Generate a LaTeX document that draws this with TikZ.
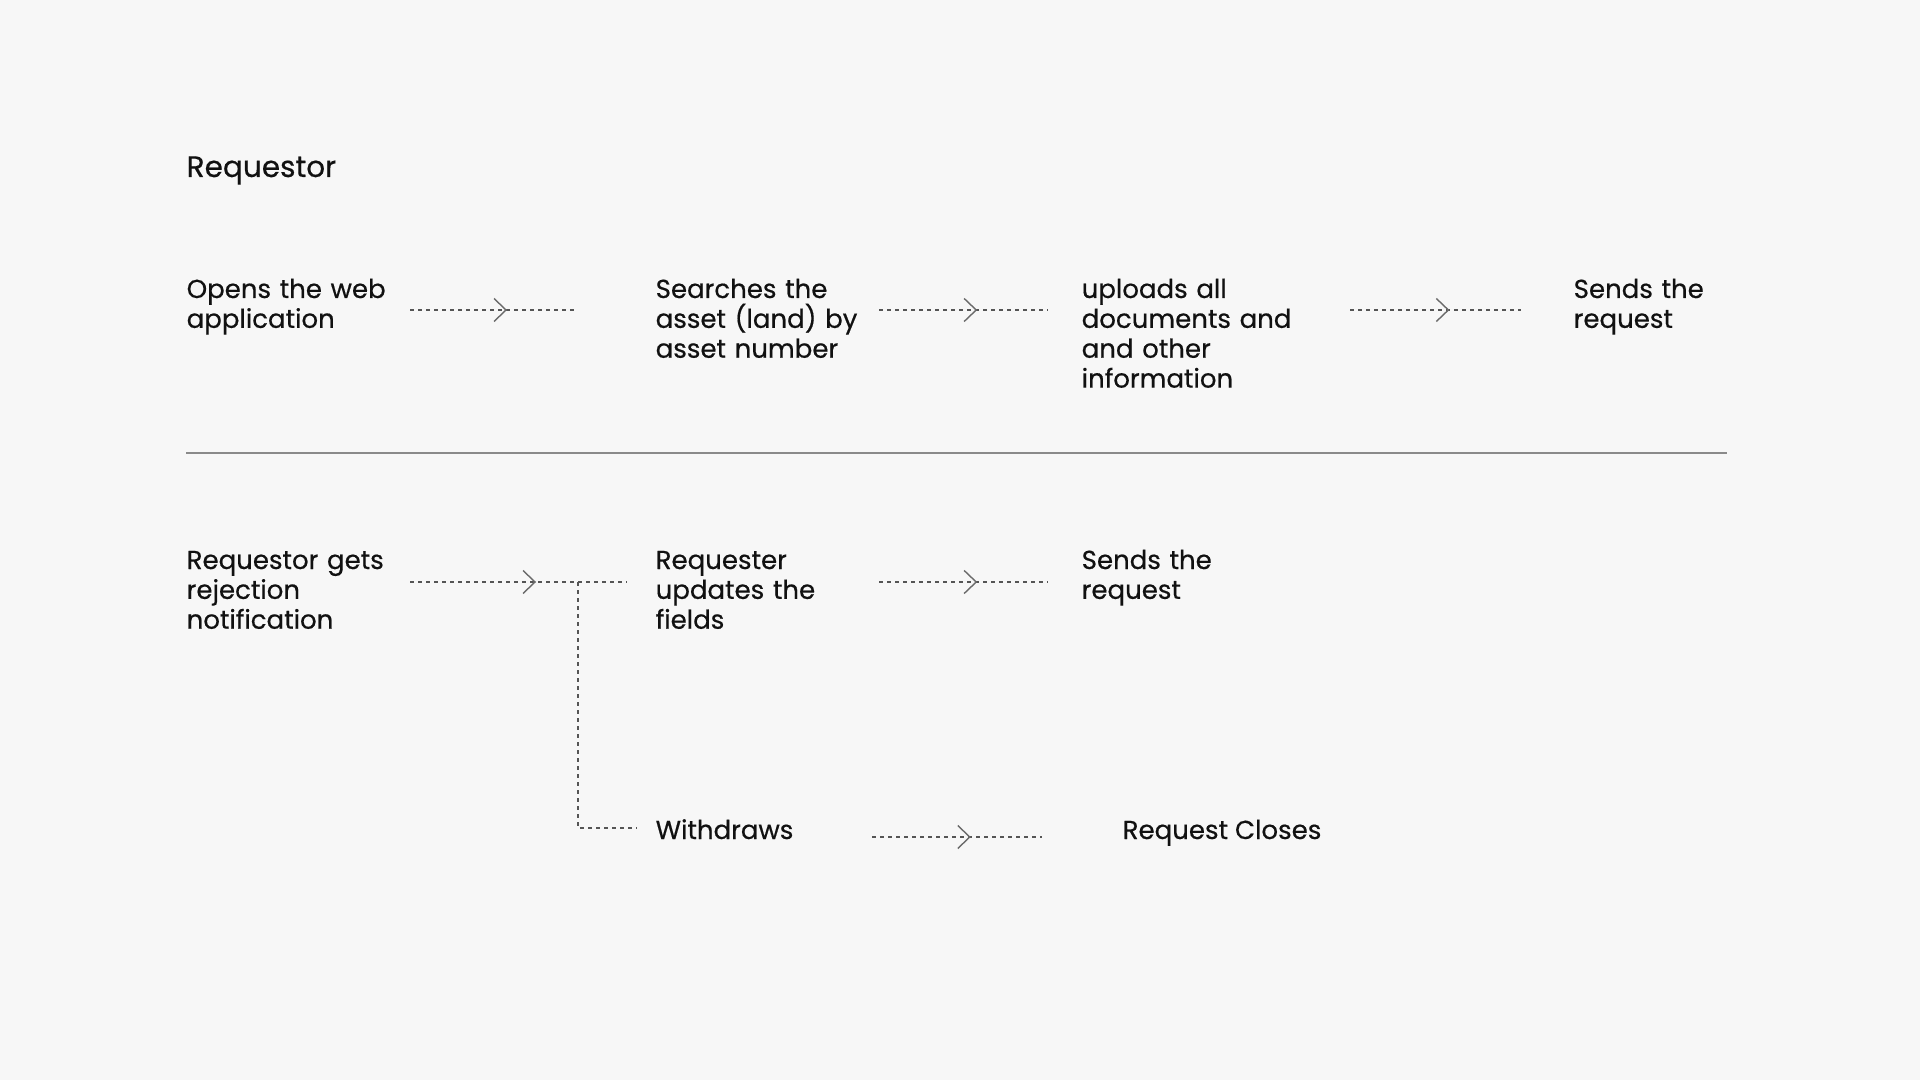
\documentclass[tikz,border=0pt]{standalone}
\usepackage{xcolor}
\usepackage{fontspec}
\setmainfont{Poppins}[FakeBold=0.5]
\usetikzlibrary{arrows.meta,decorations.markings}

\definecolor{paper}{HTML}{F7F7F7}
\definecolor{ink}{HTML}{111111}
\definecolor{rule}{HTML}{8A8A8A}
\definecolor{dash}{HTML}{555555}
\definecolor{tip}{HTML}{6A6A6A}

\begin{document}
\begin{tikzpicture}[scale=1,
	label/.style={anchor=base west, inner sep=0pt, align=left, text=ink,
		font=\fontsize{7.4pt}{8.5pt}\selectfont},
	flow/.style={draw=dash, line width=0.3pt, dash pattern=on 0.4mm off 0.4mm,
		postaction={decorate}, decoration={markings,
		mark=at position 0.58 with {\arrow[tip, line width=0.4pt]{Straight Barb[length=1.2mm, width=2.3mm]}}}},
	branch/.style={draw=dash, line width=0.3pt, dash pattern=on 0.4mm off 0.4mm}]

	\fill[paper] (0,0) rectangle (19.2,-10.8);

	\node[label, font=\fontsize{8.4pt}{10pt}\selectfont] (title) at (1.86,-1.77) {Requestor};

	\node[label, text width=2.23cm] (open) at (1.86,-2.98) {Opens the web\\application};
	\node[label, text width=2.23cm] (search) at (6.55,-2.98) {Searches the\\asset (land) by\\asset number};
	\node[label, text width=2.68cm] (upload) at (10.81,-2.98) {uploads all\\documents and\\and other\\information};
	\node[label, text width=1.60cm] (send) at (15.73,-2.98) {Sends the\\request};

	\draw[flow] ([yshift=-1.2mm]open.base east) -- ([xshift=-7.8mm, yshift=-1.2mm]search.base west);
	\draw[flow] ([yshift=-1.2mm]search.base east) -- ([xshift=-3.3mm, yshift=-1.2mm]upload.base west);
	\draw[flow] ([yshift=-1.2mm]upload.base east) -- ([xshift=-5.2mm, yshift=-1.2mm]send.base west);

	\draw[rule, line width=0.3pt] (1.86,-4.53) -- (17.27,-4.53);

	\node[label, text width=2.23cm] (reject) at (1.86,-5.69) {Requestor gets\\rejection\\notification};
	\node[label, text width=2.23cm] (update) at (6.55,-5.69) {Requester\\updates the\\fields};
	\node[label, text width=1.60cm] (resend) at (10.81,-5.69) {Sends the\\request};
	\node[label, text width=2.16cm] (withdraw) at (6.55,-8.39) {Withdraws};
	\node[label] (closed) at (11.22,-8.39) {Request Closes};

	\coordinate (split) at (5.78,-5.82);

	\draw[flow] ([yshift=-1.3mm]reject.base east) -- ([xshift=-2.8mm, yshift=-1.3mm]update.base west);
	\draw[flow] ([yshift=-1.3mm]update.base east) -- ([xshift=-3.3mm, yshift=-1.3mm]resend.base west);
	\draw[branch] (split) |- ([xshift=-1.8mm, yshift=1.1mm]withdraw.base west);
	\draw[flow] ([yshift=0.2mm]withdraw.base east) -- ([xshift=-8.0mm, yshift=0.2mm]closed.base west);

\end{tikzpicture}
\end{document}
